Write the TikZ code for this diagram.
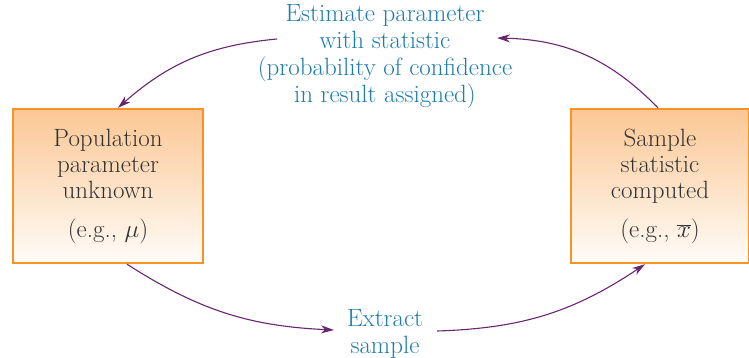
\documentclass[tikz,border=0pt]{standalone}
\usetikzlibrary{arrows.meta}
\definecolor{boxedge}{RGB}{247,148,36}
\definecolor{boxtop}{RGB}{251,199,148}
\definecolor{boxbot}{RGB}{255,252,248}
\definecolor{labelblue}{RGB}{30,124,172}
\definecolor{arrowpurple}{RGB}{104,38,112}
\definecolor{boxtext}{RGB}{50,50,50}
\begin{document}
\begin{tikzpicture}[x=1pt,y=-1pt,
    stage/.style={draw=boxedge, line width=2.4pt, top color=boxtop, bottom color=boxbot,
        text=boxtext, align=center, minimum height=154pt, inner sep=0pt,
        font=\fontsize{25}{26}\selectfont},
    note/.style={text=labelblue, align=center, inner sep=0pt},
    flow/.style={draw=arrowpurple, line width=1.1pt, -{Stealth[length=13pt,width=8pt]}}]
    \useasboundingbox (0,0) rectangle (749,358);
    % Boxes
    \node[stage, minimum width=190pt] (pop) at (108,186)
        {Population\\parameter\\unknown\\[13pt](e.g., $\mu$)};
    \node[stage, minimum width=178pt] (samp) at (660,186)
        {Sample\\statistic\\computed\\[13pt](e.g., $\overline{x}$)};
    % Labels
    \node[note, font=\fontsize{25}{27}\selectfont] (est) at (385,57)
        {Estimate parameter\\with statistic\\(probability of confidence\\in result assigned)};
    \node[note, font=\fontsize{25}{27}\selectfont] (ext) at (385,334) {Extract\\sample};
    % Arrows
    \draw[flow] ([shift={(-108,-18)}]est.center) to[bend right=18] ([xshift=10pt]pop.north);
    \draw[flow] ([xshift=-2pt]samp.north) to[bend right=22] ([shift={(112,-19)}]est.center);
    \draw[flow] ([xshift=19pt]pop.south) to[bend right=15] ([shift={(-51,-4)}]ext.center);
    \draw[flow] ([shift={(52,-3)}]ext.center) to[bend right=16] ([xshift=-15pt]samp.south);
\end{tikzpicture}
\end{document}
